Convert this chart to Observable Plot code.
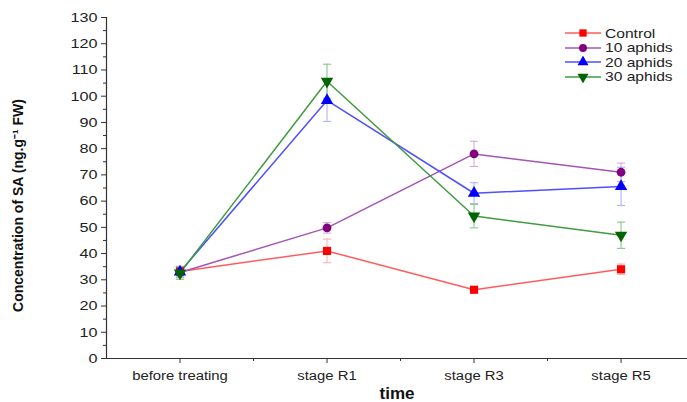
<!DOCTYPE html>
<html>
<head>
<meta charset="utf-8">
<script src="https://cdn.jsdelivr.net/npm/d3@7"></script>
<script src="https://cdn.jsdelivr.net/npm/@observablehq/plot@0.6"></script>
<style>
  body { margin: 0; background: #fff; font-family: "Liberation Sans", Arial, sans-serif; }
  #wrap { position: relative; width: 687px; height: 402px; overflow: hidden; }
  #legend { position: absolute; left: 563px; top: 26px; font-size: 13px; color: #222; }
  #legend .row { display: flex; align-items: center; height: 14.5px; }
  #legend svg { margin-right: 4px; }
  #legend span { display: inline-block; transform: scaleX(1.2); transform-origin: left center; }
</style>
</head>
<body>
<div id="wrap"><div id="chart"></div><div id="legend"></div></div>
<script>
const categories = ["before treating", "stage R1", "stage R3", "stage R5"];
const seriesNames = ["Control", "10 aphids", "20 aphids", "30 aphids"];
const controlValues = [33.2, 41, 26.2, 34];
const aphids10Values = [32.8, 49.8, 78, 71];
const aphids20Values = [33, 98.4, 63, 65.6];
const aphids30Values = [32.6, 105.7, 54.3, 47];
const controlErrors = [2, 4.5, 1, 2];
const aphids10Errors = [2, 2, 4.8, 3.5];
const aphids20Errors = [2, 8, 4, 7.3];
const aphids30Errors = [2.4, 6.5, 4.5, 5];
const yTicks = [0, 10, 20, 30, 40, 50, 60, 70, 80, 90, 100, 110, 120, 130];

const lineColors = ["#ff5c5c", "#a455b4", "#4f4fff", "#3f9b3f"];
const errColors = ["#ffaaaa", "#d2a5da", "#aaaaff", "#7fbf7f"];
const markColors = ["#ff0000", "#800080", "#0000ff", "#006400"];

const triangleDown = {
  draw(context, size) {
    const y = -Math.sqrt(size / (Math.sqrt(3) * 3));
    context.moveTo(0, -y * 2);
    context.lineTo(-Math.sqrt(3) * y, y);
    context.lineTo(Math.sqrt(3) * y, y);
    context.closePath();
  }
};
const symbols = ["square", "circle", "triangle", triangleDown];
const radii = [4.6, 4.4, 4.6, 4.6];

const allValues = [controlValues, aphids10Values, aphids20Values, aphids30Values];
const allErrors = [controlErrors, aphids10Errors, aphids20Errors, aphids30Errors];

const seriesData = seriesNames.map((name, s) =>
  categories.map((c, i) => ({series: name, x: i + 1, y: allValues[s][i], e: allErrors[s][i]}))
);

const cap = 0.028;
const marks = [];
seriesData.forEach((data, s) => {
  marks.push(Plot.ruleX(data, {x: "x", y1: d => d.y - d.e, y2: d => d.y + d.e, stroke: errColors[s], strokeWidth: 1}));
  marks.push(Plot.link(data, {x1: d => d.x - cap, x2: d => d.x + cap, y1: d => d.y + d.e, y2: d => d.y + d.e, stroke: errColors[s], strokeWidth: 1}));
  marks.push(Plot.link(data, {x1: d => d.x - cap, x2: d => d.x + cap, y1: d => d.y - d.e, y2: d => d.y - d.e, stroke: errColors[s], strokeWidth: 1}));
});
seriesData.forEach((data, s) => {
  marks.push(Plot.line(data, {x: "x", y: "y", stroke: lineColors[s], strokeWidth: 1.5}));
});
seriesData.forEach((data, s) => {
  marks.push(Plot.dot(data, {x: "x", y: "y", symbol: () => symbols[s], fill: markColors[s], stroke: "none", r: radii[s]}));
});

const chart = Plot.plot({
  width: 687,
  height: 402,
  marginLeft: 106,
  marginRight: 0,
  marginTop: 17,
  marginBottom: 44,
  style: {fontFamily: "'Liberation Sans', Arial, sans-serif", fontSize: "13px", color: "#222"},
  x: {type: "linear", domain: [0.5, 4.452], axis: null},
  y: {domain: [0, 130], axis: null},
  symbol: {type: "identity"},
  marks: [
    Plot.axisY({ticks: yTicks, tickSize: 5, tickPadding: 4, fontSize: 13.5, label: null, stroke: "#333"}),
    Plot.axisY({ticks: yTicks.slice(0, -1).map(t => t + 5), tickSize: 3, tickFormat: () => "", label: null, stroke: "#333"}),
    Plot.axisX({ticks: [1, 2, 3, 4], tickFormat: i => categories[i - 1], tickSize: 5, tickPadding: 7, fontSize: 13.5, label: null, stroke: "#333"}),
    Plot.axisX({ticks: [1.5, 2.5, 3.5], tickSize: 3, tickFormat: () => "", label: null, stroke: "#333"}),
    Plot.ruleX([0.5], {stroke: "#333", strokeWidth: 1.2}),
    Plot.ruleY([0], {stroke: "#333", strokeWidth: 1.2}),
    Plot.text(["Concentration of SA (ng.g\u207B\u00B9 FW)"], {frameAnchor: "left", textAnchor: "middle", rotate: -90, dx: -88, dy: 17.5, fontSize: 14, fontWeight: "bold", fill: "#111"}),
    Plot.text(["time"], {frameAnchor: "bottom", dy: 40, fontSize: 17, fontWeight: "bold", fill: "#111"}),
    ...marks
  ]
});
document.getElementById("chart").appendChild(chart);

// stretch tick labels horizontally, as in the reference figure
chart.querySelectorAll('g[aria-label="y-axis tick label"] text').forEach(t => {
  t.setAttribute("transform", (t.getAttribute("transform") || "") + " scale(1.2,1)");
});
chart.querySelectorAll('g[aria-label="x-axis tick label"] text').forEach(t => {
  t.setAttribute("transform", (t.getAttribute("transform") || "") + " scale(1.1,1)");
});

// legend
const legend = document.getElementById("legend");
seriesNames.forEach((name, s) => {
  const row = document.createElement("div");
  row.className = "row";
  const sym = d3.symbol(typeof symbols[s] === "string" ? {square: d3.symbolSquare, circle: d3.symbolCircle, triangle: d3.symbolTriangle}[symbols[s]] : symbols[s], Math.PI * radii[s] * radii[s] * 0.8)();
  row.innerHTML = `<svg width="38" height="12"><line x1="2" x2="38" y1="6" y2="6" stroke="${lineColors[s]}" stroke-width="1.6"/><path transform="translate(20,6)" d="${sym}" fill="${markColors[s]}"/></svg><span>${name}</span>`;
  legend.appendChild(row);
});
</script>
</body>
</html>
